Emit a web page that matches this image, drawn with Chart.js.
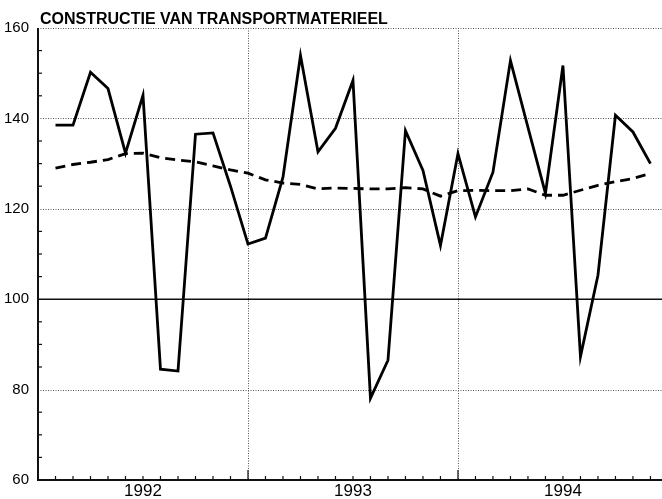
<!DOCTYPE html>
<html lang="nl">
<head>
  <meta charset="UTF-8" />
  <title>Constructie van transportmaterieel</title>
  <script src="https://cdn.jsdelivr.net/npm/chart.js"></script>
  <style>
    body { margin: 0; background: #fff; }
    canvas { display: block; }
  </style>
</head>
<body>
  <canvas id="chart" width="662" height="499"></canvas>

  <script>
    const title = 'CONSTRUCTIE VAN TRANSPORTMATERIEEL';
    const years = ['1992', '1993', '1994'];
    const yTicks = [60, 80, 100, 120, 140, 160];

    // monthly index, first value sits one month into 1992
    const actual = [
      138.5, 138.5, 150.2, 146.6, 132.3, 145.1, 84.5, 84.1, 136.5, 136.8, 125, 112.2,
      113.5, 127, 153.9, 132.6, 137.8, 148.4, 78.1, 86.5, 137.3, 128.5, 111.9, 132.2,
      118.2, 128.1, 152.8, 138, 123.4, 151.7, 87.3, 105.3, 140.7, 137, 130
    ];
    const trend = [
      129, 129.8, 130.3, 130.9, 132.2, 132.3, 131.3, 130.8, 130.4, 129.5, 128.6, 127.9,
      126.4, 125.7, 125.4, 124.4, 124.6, 124.5, 124.4, 124.4, 124.7, 124.4, 122.8, 124,
      124.1, 124, 124, 124.4, 123, 123, 124.1, 125.2, 126, 126.7, 127.8
    ];

    const toPoints = arr => arr.map((v, i) => ({ x: i + 1, y: v }));
    const font = '"Liberation Sans", Arial, sans-serif';

    const paper = {
      id: 'paper',
      beforeDatasetsDraw(chart) {
        const { ctx, chartArea: a, scales: { x, y } } = chart;
        const hline = (py) => { ctx.beginPath(); ctx.moveTo(a.left, py); ctx.lineTo(a.right, py); ctx.stroke(); };
        ctx.save();

        // dotted grid
        ctx.strokeStyle = '#555';
        ctx.lineWidth = 1;
        ctx.setLineDash([1, 1.5]);
        [80, 120, 140, 160].forEach(v => hline(Math.round(y.getPixelForValue(v)) + 0.5));
        [12, 24].forEach(m => {
          const px = Math.round(x.getPixelForValue(m)) + 0.5;
          ctx.beginPath(); ctx.moveTo(px, a.top); ctx.lineTo(px, a.bottom); ctx.stroke();
        });
        ctx.setLineDash([]);

        // base line 100
        ctx.strokeStyle = '#111';
        ctx.lineWidth = 1.5;
        hline(y.getPixelForValue(100));

        // axes
        ctx.lineWidth = 2;
        ctx.beginPath();
        ctx.moveTo(a.left, a.top);
        ctx.lineTo(a.left, a.bottom);
        ctx.lineTo(a.right, a.bottom);
        ctx.stroke();

        // inward ticks
        ctx.lineWidth = 1.2;
        for (let v = 65; v < 160; v += 5) {
          if (v % 20 === 0) continue;
          const py = y.getPixelForValue(v);
          ctx.beginPath(); ctx.moveTo(a.left, py); ctx.lineTo(a.left + 4, py); ctx.stroke();
        }
        for (let m = 1; m <= 35; m++) {
          const px = x.getPixelForValue(m);
          const len = m % 12 === 0 ? 10 : 4;
          ctx.beginPath(); ctx.moveTo(px, a.bottom); ctx.lineTo(px, a.bottom - len); ctx.stroke();
        }
        ctx.restore();
      },
      afterDraw(chart) {
        const { ctx, chartArea: a } = chart;
        ctx.save();
        ctx.fillStyle = '#000';
        ctx.font = 'bold 16px ' + font;
        ctx.textBaseline = 'alphabetic';
        ctx.fillText(title, a.left + 2, a.top - 4);
        ctx.restore();
      }
    };

    new Chart(document.getElementById('chart'), {
      type: 'line',
      data: {
        datasets: [
          {
            label: 'index',
            data: toPoints(actual),
            borderColor: '#000',
            borderWidth: 2.8,
            pointRadius: 0,
            tension: 0
          },
          {
            label: 'trend',
            data: toPoints(trend),
            borderColor: '#000',
            borderWidth: 2.8,
            borderDash: [10, 6],
            pointRadius: 0,
            tension: 0
          }
        ]
      },
      options: {
        responsive: false,
        animation: false,
        layout: { padding: { top: 28, right: 0, left: 0, bottom: 0 } },
        plugins: { legend: { display: false }, tooltip: { enabled: false } },
        scales: {
          x: {
            type: 'linear',
            min: 0,
            max: 35.66,
            grid: { display: false },
            border: { display: false },
            afterBuildTicks: s => { s.ticks = years.map((_, i) => ({ value: 6 + 12 * i })); },
            afterFit: s => { s.height = 19; },
            ticks: {
              autoSkip: false,
              maxRotation: 0,
              padding: -7,
              color: '#000',
              font: { family: font, size: 17 },
              callback: v => years[(v - 6) / 12]
            }
          },
          y: {
            min: 60,
            max: 160,
            grid: { display: false },
            border: { display: false },
            afterBuildTicks: s => { s.ticks = yTicks.map(v => ({ value: v })); },
            afterFit: s => { s.width = 38; },
            ticks: {
              padding: 1,
              color: '#000',
              font: { family: font, size: 15 }
            }
          }
        }
      },
      plugins: [paper]
    });
  </script>
</body>
</html>
